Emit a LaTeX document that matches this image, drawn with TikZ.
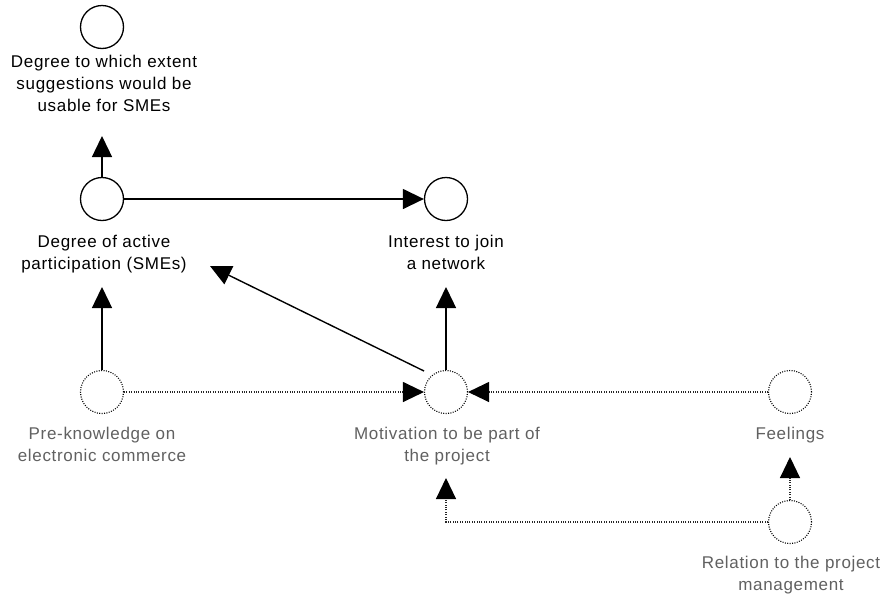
\documentclass[tikz,border=0pt]{standalone}
\usepackage{fontspec}
\setmainfont{Liberation Sans}[LetterSpace=4]
\usetikzlibrary{arrows.meta}
\tikzset{
  solidc/.style={circle,draw=black,line width=1.3pt,minimum size=43pt,inner sep=0pt},
  dotc/.style={circle,draw=black,line width=1.1pt,dash pattern=on 1pt off 1.4pt,minimum size=43pt,inner sep=0pt},
  lbl/.style={anchor=north,align=center,inner sep=0pt,font=\fontsize{17}{22}\selectfont,text=black},
  glbl/.style={lbl,text=black!62},
  sarr/.style={line width=1.4pt,-{Triangle[length=21pt,width=20pt]}},
  darr/.style={line width=1.1pt,draw=black!85,dash pattern=on 1pt off 1.4pt,-{Triangle[length=21pt,width=20pt,color=black]}}
}
\begin{document}
\begin{tikzpicture}[x=1pt,y=-1pt]
\useasboundingbox[fill=white] (0,0) rectangle (888,595);
% circles
\node[solidc] (A) at (102,27) {};
\node[solidc] (B) at (102,199) {};
\node[solidc] (C) at (446,199) {};
\node[dotc] (D) at (102,392) {};
\node[dotc] (E) at (446,392) {};
\node[dotc] (F) at (790,392) {};
\node[dotc] (G) at (790,522) {};
% labels
\node[lbl] (Al) at (104,54.5) {Degree to which extent\\suggestions would be\\usable for SMEs};
\node[lbl] (Bl) at (104,234.5) {Degree of active\\participation (SMEs)};
\node[lbl] (Cl) at (446,234.5) {Interest to join\\a network};
\node[glbl] (Dl) at (102,426.5) {Pre-knowledge on\\electronic commerce};
\node[glbl] (El) at (447,426.5) {Motivation to be part of\\the project};
\node[glbl] (Fl) at (790,426.5) {Feelings};
\node[glbl] (Gl) at (791,555.5) {Relation to the project\\management};
% free ends
\coordinate (tA) at (102,136);
\coordinate (tB) at (102,287);
\coordinate (tC) at (446,287);
\coordinate (tBd) at (210,266);
\coordinate (sBd) at (424,371);
\coordinate (tF) at (790,457);
\coordinate (tE) at (446,478);
\coordinate (cG) at (446,522);
% connectors
\draw[sarr] (B.north) -- (tA);
\draw[sarr] (B.east) -- (C.west);
\draw[sarr] (D.north) -- (tB);
\draw[sarr] (E.north) -- (tC);
\draw[sarr] (sBd) -- (tBd);
\draw[darr] (D.east) -- (E.west);
\draw[darr] (F.west) -- (E.east);
\draw[darr] (G.north) -- (tF);
\draw[darr] (G.west) -- (cG) -- (tE);
\end{tikzpicture}
\end{document}
